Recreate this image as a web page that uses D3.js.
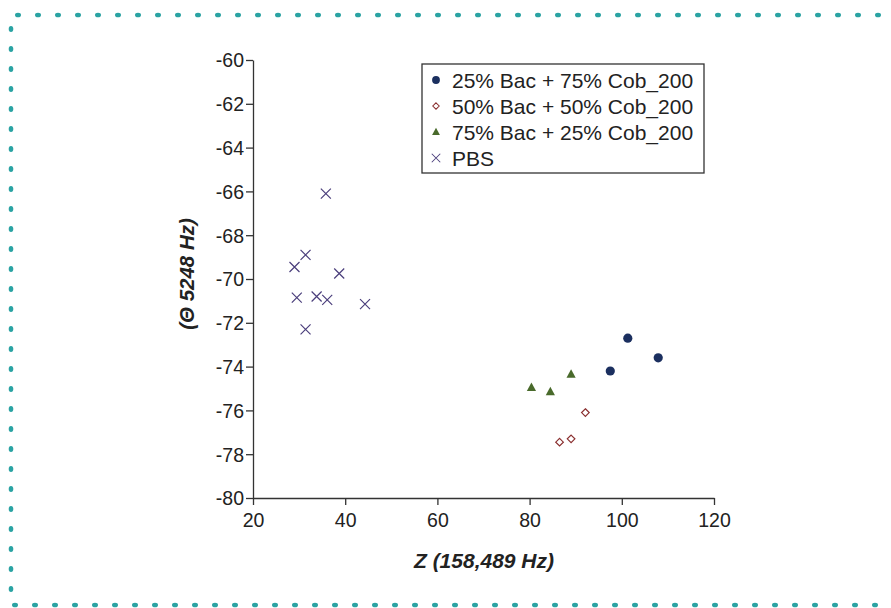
<!DOCTYPE html>
<html>
<head>
<meta charset="utf-8">
<script src="https://cdn.jsdelivr.net/npm/d3@7"></script>
<style>
  body { margin: 0; background: #fff; }
  svg { display: block; font-family: "Liberation Sans", Arial, Helvetica, sans-serif; }
</style>
</head>
<body>
<script>
var width = 891,
    height = 608;

// data
var seriesNames = ["25% Bac + 75% Cob_200", "50% Bac + 50% Cob_200", "75% Bac + 25% Cob_200", "PBS"];
var bac25x = [101.3, 107.9, 97.5];
var bac25y = [-72.7, -73.6, -74.2];
var bac50x = [92.1, 89.0, 86.5];
var bac50y = [-76.1, -77.3, -77.45];
var bac75x = [89.0, 80.4, 84.5];
var bac75y = [-74.35, -74.95, -75.15];
var pbsX = [35.8, 31.4, 29.0, 38.7, 29.5, 33.8, 36.1, 44.3, 31.4];
var pbsY = [-66.1, -68.9, -69.45, -69.75, -70.85, -70.8, -70.95, -71.15, -72.3];
var xTicks = [20, 40, 60, 80, 100, 120];
var yTicks = [-60, -62, -64, -66, -68, -70, -72, -74, -76, -78, -80];

var svg = d3.select("body").append("svg")
    .attr("width", width)
    .attr("height", height);

// dotted frame (top, left, bottom)
var dotColor = "#2aa3a3";
d3.range(18, 880, 20).forEach(function(x) {
  svg.append("ellipse").attr("cx", x).attr("cy", 15).attr("rx", 3).attr("ry", 2.3).attr("fill", dotColor);
});
d3.range(15, 880, 20).forEach(function(x) {
  svg.append("ellipse").attr("cx", x).attr("cy", 605).attr("rx", 3).attr("ry", 2.3).attr("fill", dotColor);
});
d3.range(29, 600, 20).forEach(function(y) {
  svg.append("ellipse").attr("cx", 11).attr("cy", y).attr("rx", 2.3).attr("ry", 3).attr("fill", dotColor);
});

var x = d3.scaleLinear().domain([20, 120]).range([253, 714]);
var y = d3.scaleLinear().domain([-80, -60]).range([498, 60]);

var fmt = function(d) { return String(d); }; // plain hyphen, like the original

var xAxis = svg.append("g")
    .attr("transform", "translate(0,498)")
    .call(d3.axisBottom(x).tickValues(xTicks).tickFormat(fmt).tickSize(7).tickSizeOuter(0).tickPadding(3));
var yAxis = svg.append("g")
    .attr("transform", "translate(253,0)")
    .call(d3.axisLeft(y).tickValues(yTicks).tickFormat(fmt).tickSize(7).tickSizeOuter(0).tickPadding(2));

[xAxis, yAxis].forEach(function(a) {
  a.selectAll("path, line").attr("stroke", "#333").attr("stroke-width", 1.3);
  a.selectAll("text").attr("fill", "#222").style("font-size", "19.5px")
    .style("font-family", "'Liberation Sans', Arial, sans-serif");
});
xAxis.selectAll("text").attr("dy", "0.95em");
yAxis.selectAll("text").attr("dy", "0.35em");

// axis titles
svg.append("text")
    .attr("x", 484).attr("y", 568)
    .attr("text-anchor", "middle")
    .style("font-size", "21px").style("font-weight", "bold").style("font-style", "italic")
    .attr("fill", "#222")
    .text("Z (158,489 Hz)");
svg.append("text")
    .attr("transform", "translate(194,274) rotate(-90)")
    .attr("text-anchor", "middle")
    .style("font-size", "20.5px").style("font-weight", "bold").style("font-style", "italic")
    .attr("fill", "#222")
    .text("(Θ 5248 Hz)");

var colors = ["#1b2f5f", "#8a2f2f", "#496a2b", "#4b3f7c"];

function drawMark(g, i) {
  if (i === 0) {
    g.append("circle").attr("r", 4.6).attr("fill", colors[0]);
  } else if (i === 1) {
    g.append("path").attr("d", "M0,-3.8L3.8,0L0,3.8L-3.8,0Z")
      .attr("fill", "#fff").attr("stroke", colors[1]).attr("stroke-width", 1.2);
  } else if (i === 2) {
    g.append("path").attr("d", "M0,-5L4.6,3.5L-4.6,3.5Z").attr("fill", colors[2]);
  } else {
    g.append("path").attr("d", "M-5,-5L5,5M-5,5L5,-5")
      .attr("stroke", colors[3]).attr("stroke-width", 1.2).attr("fill", "none");
  }
}

var series = [
  { xs: bac25x, ys: bac25y },
  { xs: bac50x, ys: bac50y },
  { xs: bac75x, ys: bac75y },
  { xs: pbsX, ys: pbsY }
];

series.forEach(function(s, i) {
  var pts = s.xs.map(function(v, k) { return [v, s.ys[k]]; });
  svg.append("g").selectAll("g")
    .data(pts)
    .enter().append("g")
      .attr("transform", function(d) { return "translate(" + x(d[0]) + "," + y(d[1]) + ")"; })
      .each(function() { drawMark(d3.select(this), i); });
});

// legend
var legend = svg.append("g").attr("transform", "translate(422,64)");
legend.append("rect")
    .attr("width", 282).attr("height", 109)
    .attr("fill", "#fff").attr("stroke", "#333").attr("stroke-width", 1.3);
seriesNames.forEach(function(name, i) {
  var row = legend.append("g").attr("transform", "translate(14," + (16 + i * 26) + ")");
  drawMark(row.append("g").attr("transform", "scale(0.85)"), i);
  row.append("text")
    .attr("x", 16).attr("y", 0).attr("dy", "0.36em")
    .style("font-size", "21px").attr("fill", "#222")
    .text(name);
});
</script>
</body>
</html>
